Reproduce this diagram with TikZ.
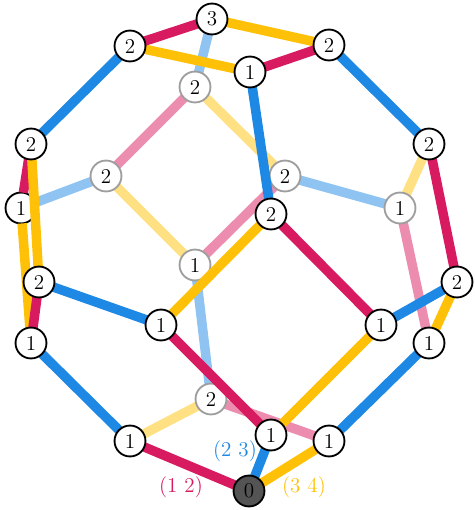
\documentclass[tikz,border=0pt]{standalone}
\definecolor{cblue}{HTML}{1E88E5}
\definecolor{cred}{HTML}{D81B60}
\definecolor{camber}{HTML}{FFC107}
\pgfdeclarelayer{faded}
\pgfdeclarelayer{backnodes}
\pgfdeclarelayer{edges}
\pgfsetlayers{faded,backnodes,edges,main}
\tikzset{
  vtx/.style={circle,draw=black,fill=white,line width=1.05pt,minimum size=17.6pt,inner sep=0pt,outer sep=0pt,font=\large},
  backvtx/.style={vtx,draw=black!38},
  bedge/.style={cblue,line width=0.19cm},
  redge/.style={cred,line width=0.19cm},
  aedge/.style={camber,line width=0.19cm},
  fbedge/.style={cblue!50,line width=0.19cm},
  fredge/.style={cred!50,line width=0.19cm},
  faedge/.style={camber!50,line width=0.19cm}
}
\begin{document}
\begin{tikzpicture}[x=0.02cm,y=-0.02cm]
  \useasboundingbox (0,0) rectangle (474,510);
  % vertices at the back
  \begin{pgfonlayer}{backnodes}
    \node[backvtx] (gtop) at (195,87) {2};
    \node[backvtx] (gleft) at (106,176) {2};
    \node[backvtx] (gright) at (285,176) {2};
    \node[backvtx] (gfar) at (400,208) {1};
    \node[backvtx] (gmid) at (195,265) {1};
    \node[backvtx] (glow) at (211,399) {2};
    \node[vtx] (sideL) at (21,208) {1};
  \end{pgfonlayer}
  % vertices in front
  \node[vtx] (top) at (212,19) {3};
  \node[vtx] (topL) at (130,46) {2};
  \node[vtx] (topR) at (329,45) {2};
  \node[vtx] (topM) at (250,72) {1};
  \node[vtx] (upL) at (31,144) {2};
  \node[vtx] (upR) at (429,144) {2};
  \node[vtx] (midM) at (271,214) {2};
  \node[vtx] (lowL) at (39,282) {2};
  \node[vtx] (lowR) at (457,282) {2};
  \node[vtx] (inL) at (161,325) {1};
  \node[vtx] (inR) at (381,325) {1};
  \node[vtx] (farL) at (31,343) {1};
  \node[vtx] (farR) at (429,343) {1};
  \node[vtx] (botM) at (271,435) {1};
  \node[vtx] (botL) at (130,441) {1};
  \node[vtx] (botR) at (329,441) {1};
  \node[vtx,fill=black!67] (root) at (249,491) {0};
  % faded edges
  \begin{pgfonlayer}{faded}
    \draw[fbedge] (top) -- (gtop);
    \draw[fbedge] (gleft) -- (sideL);
    \draw[fbedge] (gright) -- (gfar);
    \draw[fbedge] (gmid) -- (glow);
    \draw[fredge] (gtop) -- (gleft);
    \draw[fredge] (gright) -- (gmid);
    \draw[fredge] (glow) -- (botR);
    \draw[fredge] (gfar) -- (farR);
    \draw[faedge] (gtop) -- (gright);
    \draw[faedge] (gleft) -- (gmid);
    \draw[faedge] (glow) -- (botL);
    \draw[faedge] (gfar) -- (upR);
  \end{pgfonlayer}
  % edges in front
  \begin{pgfonlayer}{edges}
    \draw[redge] (upL) -- (sideL);
    \draw[aedge] (root) -- (botR);
    \draw[aedge] (botM) -- (inR);
    \draw[aedge] (midM) -- (inL);
    \draw[aedge] (farR) -- (lowR);
    \draw[aedge] (farL) -- (sideL);
    \draw[aedge] (upL) -- (lowL);
    \draw[aedge] (top) -- (topR);
    \draw[aedge] (topL) -- (topM);
    \draw[redge] (root) -- (botL);
    \draw[redge] (botM) -- (inL);
    \draw[redge] (midM) -- (inR);
    \draw[redge] (farL) -- (lowL);
    \draw[redge] (upR) -- (lowR);
    \draw[redge] (top) -- (topL);
    \draw[redge] (topM) -- (topR);
    \draw[bedge] (root) -- (botM);
    \draw[bedge] (botL) -- (farL);
    \draw[bedge] (botR) -- (farR);
    \draw[bedge] (inL) -- (lowL);
    \draw[bedge] (inR) -- (lowR);
    \draw[bedge] (topM) -- (midM);
    \draw[bedge] (topL) -- (upL);
    \draw[bedge] (topR) -- (upR);
  \end{pgfonlayer}
  % generators
  \node[text=cblue,font=\large] (lblue) at (235,451) {(2 3)};
  \node[text=cred,font=\large] (lred) at (181,487) {(1 2)};
  \node[text=camber,font=\large] (lamber) at (304,487) {(3 4)};
\end{tikzpicture}
\end{document}
